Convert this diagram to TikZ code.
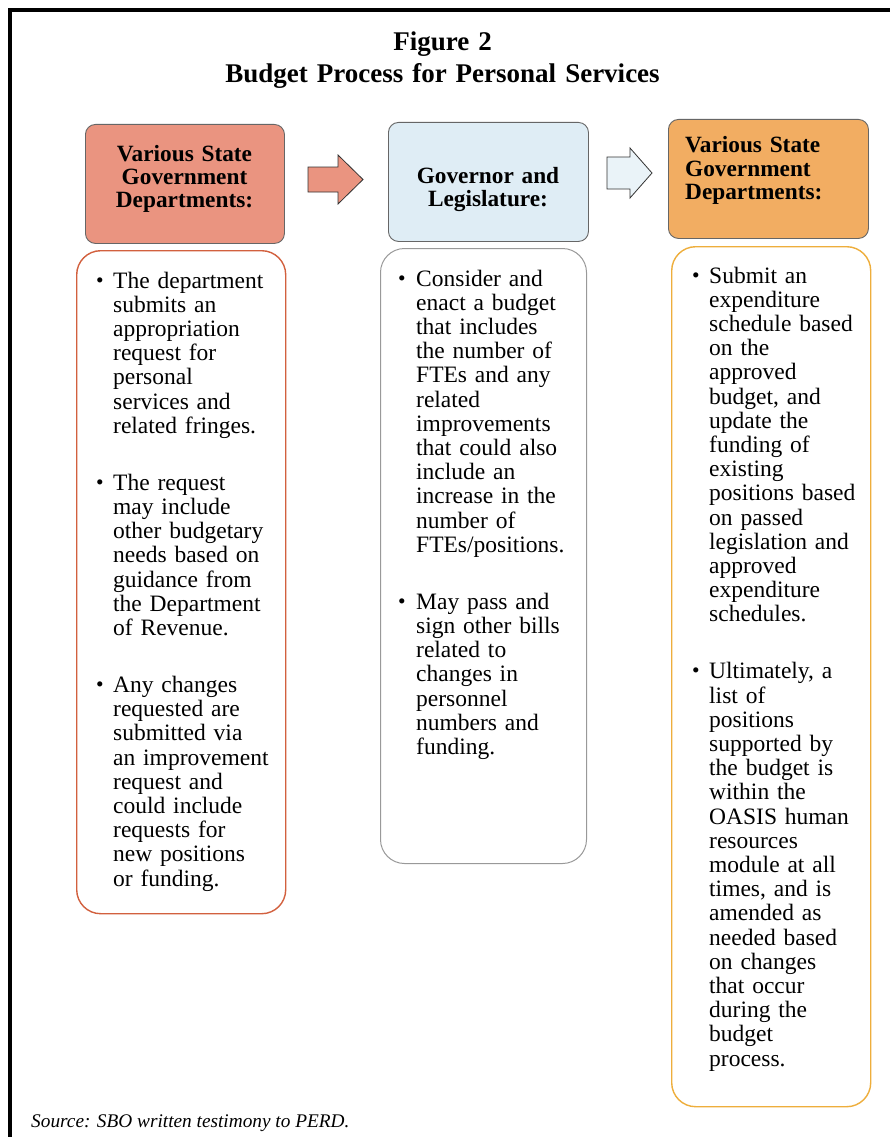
\documentclass[tikz,border=0pt]{standalone}
\usepackage{fontspec}
\setmainfont{Liberation Serif}
\definecolor{salmon}{HTML}{EA9480}
\definecolor{lblue}{HTML}{DFEDF5}
\definecolor{lblueA}{HTML}{EAF3F8}
\definecolor{orng}{HTML}{F2AD62}
\definecolor{redb}{HTML}{D2603E}
\definecolor{goldb}{HTML}{EEAE3C}
\definecolor{grayb}{HTML}{999999}
\definecolor{hdrb}{HTML}{666666}
\tikzset{
  hdrbox/.style={draw=hdrb, line width=0.9pt, rounded corners=10pt, anchor=north west, inner sep=0pt},
  bodybox/.style={fill=white, line width=1.4pt, rounded corners=24pt, anchor=north west, inner sep=0pt},
  btxt/.style={anchor=base west, inner sep=0pt, text width=200pt, align=left, font=\fontsize{23.5}{24.2}\selectfont},
  bul/.style={anchor=base, inner sep=0pt, yshift=1pt, font=\fontsize{21.5}{22}\selectfont},
  htxt/.style={inner sep=0pt, font=\bfseries\fontsize{23.3}{23.2}\selectfont},
  blockarrow/.style={draw=black!80, line width=0.8pt, line join=miter}
}
\begin{document}
\begin{tikzpicture}[x=1pt,y=-1pt]
\useasboundingbox (0,0) rectangle (890,1137);
\fill[white] (0,0) rectangle (890,1137);
\begin{scope}
\clip (0,0) rectangle (890,1137);
\draw[line width=4.5pt] (895,10) -- (10,10) -- (10,1145);
\end{scope}

% title
\node[anchor=base, inner sep=0pt, text width=600pt, align=center,
      font=\bfseries\fontsize{27}{32}\selectfont] (title) at (442.5,51)
      {Figure 2\\Budget Process for Personal Services};

% header boxes
\node[hdrbox, fill=salmon, minimum width=199pt, minimum height=119pt] (h1) at (85,124) {};
\node[hdrbox, fill=lblue, minimum width=200pt, minimum height=119pt] (h2) at (388,122) {};
\node[hdrbox, fill=orng, minimum width=200pt, minimum height=119pt] (h3) at (668,119) {};

\node[htxt, anchor=base, text width=199pt, align=center] (t1) at (184.5,161)
  {Various State\\Government\\Departments:};
\node[htxt, anchor=base, text width=200pt, align=center] (t2) at (488,183)
  {Governor and\\Legislature:};
\node[htxt, anchor=base west, text width=190pt, align=left] (t3) at (685,153)
  {Various State\\Government\\Departments:};

% block arrows
\coordinate (a1) at (308,179.5);
\coordinate (a2) at (607,173);
\draw[blockarrow, fill=salmon] (a1) ++(0,-12.5) -- ++(30,0) -- ++(0,-12) -- ++(25,24.5)
  -- ++(-25,24.5) -- ++(0,-12) -- ++(-30,0) -- cycle;
\draw[blockarrow, fill=lblueA] (a2) ++(0,-16) -- ++(23,0) -- ++(0,-9) -- ++(22,25)
  -- ++(-22,25) -- ++(0,-9) -- ++(-23,0) -- cycle;

% body boxes
\node[bodybox, draw=redb, minimum width=209pt, minimum height=663pt] (b1) at (76,250) {};
\node[bodybox, draw=grayb, line width=1pt, minimum width=206pt, minimum height=615pt] (b2) at (380,248) {};
\node[bodybox, draw=goldb, minimum width=199pt, minimum height=860pt] (b3) at (671,246) {};

% box 1 text
\node[bul] (p11) at (100,288) {•};
\node[btxt] (x11) at (113,288) {The department\\submits an\\appropriation\\request for\\personal\\services and\\related fringes.};
\node[bul] (p12) at (100,490.2) {•};
\node[btxt] (x12) at (113,490.2) {The request\\may include\\other budgetary\\needs based on\\guidance from\\the Department\\of Revenue.};
\node[bul] (p13) at (100,692.4) {•};
\node[btxt] (x13) at (113,692.4) {Any changes\\requested are\\submitted via\\an improvement\\request and\\could include\\requests for\\new positions\\or funding.};

% box 2 text
\node[bul] (p21) at (402,286) {•};
\node[btxt] (x21) at (416,286) {Consider and\\enact a budget\\that includes\\the number of\\FTEs and any\\related\\improvements\\that could also\\include an\\increase in the\\number of\\FTEs/positions.};
\node[bul] (p22) at (402,609.2) {•};
\node[btxt] (x22) at (416,609.2) {May pass and\\sign other bills\\related to\\changes in\\personnel\\numbers and\\funding.};

% box 3 text
\node[bul] (p31) at (696,283) {•};
\node[btxt] (x31) at (709,283) {Submit an\\expenditure\\schedule based\\on the\\approved\\budget, and\\update the\\funding of\\existing\\positions based\\on passed\\legislation and\\approved\\expenditure\\schedules.};
\node[bul] (p32) at (696,678.8) {•};
\node[btxt] (x32) at (709,678.8) {Ultimately, a\\list of\\positions\\supported by\\the budget is\\within the\\OASIS human\\resources\\module at all\\times, and is\\amended as\\needed based\\on changes\\that occur\\during the\\budget\\process.};

% source
\node[anchor=base west, inner sep=0pt, font=\itshape\fontsize{19.3}{22}\selectfont] (src) at (31,1127)
  {Source: SBO written testimony to PERD.};
\end{tikzpicture}
\end{document}
